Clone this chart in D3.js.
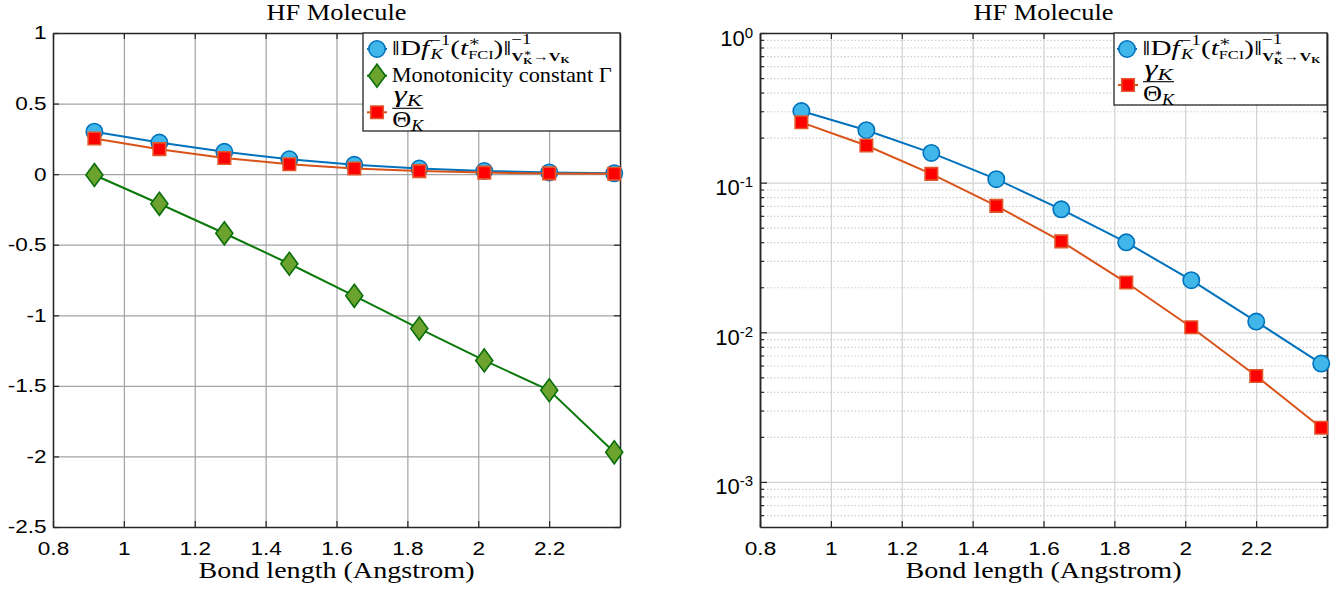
<!DOCTYPE html>
<html>
<head>
<meta charset="utf-8">
<title>HF Molecule</title>
<script src="https://d3js.org/d3.v7.min.js"></script>
<style>
  body { margin: 0; background: #fff; }
  svg { display: block; }
  .tick text { font-family: "Liberation Sans", Arial, sans-serif; fill: #000; }
  .serif, .math text { font-family: "Liberation Serif", "Times New Roman", "DejaVu Serif", serif; fill: #000; }
</style>
</head>
<body>
<svg id="chart" width="1341" height="597"></svg>
<script>
// values
var bondLength = [0.9168, 1.1002, 1.2835, 1.4669, 1.6502, 1.8336, 2.0170, 2.2003, 2.3837];
var invNorm = [0.301, 0.224, 0.158, 0.1055, 0.0663, 0.0399, 0.0223, 0.0118, 0.00618];
var gammaTheta = [0.253, 0.177, 0.1145, 0.0700, 0.0405, 0.0215, 0.0108, 0.0051, 0.0023];
var monotonicity = [-0.006, -0.210, -0.419, -0.635, -0.862, -1.094, -1.320, -1.531, -1.971];

var xTicks = [0.8, 1, 1.2, 1.4, 1.6, 1.8, 2, 2.2];
var yTicksLin = [1, 0.5, 0, -0.5, -1, -1.5, -2, -2.5];
var yTicksLog = [1, 0.1, 0.01, 0.001];
var yMinorLog = [6e-4, 7e-4, 8e-4, 9e-4, 2e-3, 3e-3, 4e-3, 5e-3, 6e-3, 7e-3, 8e-3, 9e-3,
                 2e-2, 3e-2, 4e-2, 5e-2, 6e-2, 7e-2, 8e-2, 9e-2, 0.2, 0.3, 0.4, 0.5, 0.6, 0.7, 0.8, 0.9];

var titleText = "HF Molecule";
var xLabelText = "Bond length (Angstrom)";
var monoLabel = "Monotonicity constant \u0393";

var C = {
  blue: "#0072BD", blueFill: "#41B6E8",
  red: "#D95319", redFill: "#FF0000", redEdge: "#E4552A",
  green: "#0A790A", greenFill: "#6BA32E", greenEdge: "#0A6E0A",
  axis: "#262626"
};

var svg = d3.select("#chart");
var SX = 1.22; // the picture is stretched sideways a bit

var circlePath = d3.symbol(d3.symbolCircle, Math.PI * 8.2 * 8.2)();
var squarePath = d3.symbol(d3.symbolSquare, 12.5 * 12.5)();
var diamondPath = "M0,-11.5L8.5,0L0,11.5L-8.5,0Z";

var styles = {
  blue: {line: C.blue, fill: C.blueFill, edge: C.blue, shape: circlePath},
  red: {line: C.red, fill: C.redFill, edge: C.redEdge, shape: squarePath},
  green: {line: C.green, fill: C.greenFill, edge: C.greenEdge, shape: diamondPath}
};

function drawSeries(g, x, y, vals, st) {
  var line = d3.line()
    .x(function(d, i) { return x(bondLength[i]); })
    .y(function(d) { return y(d); });
  g.append("path").datum(vals)
    .attr("d", line).attr("fill", "none")
    .attr("stroke", st.line).attr("stroke-width", 2);
  g.append("g").selectAll("path").data(vals).join("path")
    .attr("transform", function(d, i) { return "translate(" + x(bondLength[i]) + "," + y(d) + ")"; })
    .attr("d", st.shape)
    .attr("fill", st.fill).attr("stroke", st.edge).attr("stroke-width", 1.6);
}

function styleAxis(sel) {
  sel.select(".domain").attr("stroke", C.axis).attr("stroke-width", 1.5);
  sel.selectAll(".tick line").attr("stroke", C.axis).attr("stroke-width", 1.2);
}

function styleGrid(sel, color, dash) {
  sel.select(".domain").remove();
  sel.selectAll(".tick line").attr("stroke", color).attr("stroke-width", 1.2)
    .attr("stroke-dasharray", dash || null);
}

function frameAxes(g, x, y, p, ticksY, minorY) {
  // top and right box sides with inner ticks
  g.append("g").attr("transform", "translate(0," + p.y0 + ")")
    .call(d3.axisTop(x).tickValues(xTicks).tickSize(-6).tickSizeOuter(0).tickFormat(""))
    .call(styleAxis);
  g.append("g").attr("transform", "translate(" + p.x1 + ",0)")
    .call(d3.axisRight(y).tickValues(ticksY).tickSize(-6).tickSizeOuter(0).tickFormat(""))
    .call(styleAxis);
  if (minorY) {
    g.append("g").attr("transform", "translate(" + p.x1 + ",0)")
      .call(d3.axisRight(y).tickValues(minorY).tickSize(-4).tickSizeOuter(0).tickFormat(""))
      .call(styleAxis);
    g.append("g").attr("transform", "translate(" + p.x0 + ",0)")
      .call(d3.axisLeft(y).tickValues(minorY).tickSize(-4).tickSizeOuter(0).tickFormat(""))
      .call(styleAxis);
  }
  // bottom axis with labels
  var ax = g.append("g").attr("transform", "translate(0," + p.y1 + ")")
    .call(d3.axisBottom(x).tickValues(xTicks).tickSize(-6).tickSizeOuter(0).tickPadding(15)
      .tickFormat(function(d) { return String(d); }))
    .call(styleAxis);
  ax.selectAll(".tick text").style("font-size", "18.5px").attr("transform", "scale(" + SX + ",1)");
}

function titles(g, cx) {
  g.append("text").attr("class", "serif")
    .attr("x", cx).attr("y", 20).attr("text-anchor", "middle")
    .style("font-size", "23px")
    .attr("textLength", 140).attr("lengthAdjust", "spacingAndGlyphs")
    .text(titleText);
  g.append("text").attr("class", "serif")
    .attr("x", cx).attr("y", 578).attr("text-anchor", "middle")
    .style("font-size", "23px")
    .attr("textLength", 276).attr("lengthAdjust", "spacingAndGlyphs")
    .text(xLabelText);
}

// tiny math typesetter: runs of tspans inside one text, stacked sup/sub pairs
function typeset(txt, items, x) {
  items.forEach(function(it) {
    if (it.up || it.dn) {
      var a = typeset(txt, it.up || [], x);
      var b = typeset(txt, it.dn || [], x);
      x = Math.max(a, b);
    } else {
      var t = txt.append("tspan")
        .attr("x", x).attr("y", it.dy || 0)
        .style("font-size", (22 * (it.s || 1)) + "px")
        .style("font-style", it.it ? "italic" : "normal")
        .style("font-weight", it.b ? "bold" : "normal")
        .text(it.t);
      x += t.node().getComputedTextLength() + (it.sp || 0);
    }
  });
  return x;
}

function mathLabel(parent, x, y, items, width) {
  var g = parent.append("g").attr("class", "math");
  var w = typeset(g.append("text"), items, 0);
  g.attr("transform", "translate(" + x + "," + y + ") scale(" + (width / w) + ",1)");
}

function fraction(parent, x, lineY, width, num, numW, den, denW) {
  parent.append("line")
    .attr("x1", x).attr("x2", x + width).attr("y1", lineY).attr("y2", lineY)
    .attr("stroke", "#000").attr("stroke-width", 1.1);
  mathLabel(parent, x + (width - numW) / 2, lineY - 6, num, numW);
  mathLabel(parent, x + (width - denW) / 2, lineY + 19, den, denW);
}

var normLabel = [
  {t: "\u2016D"},
  {t: "f", it: 1, sp: 1},
  {up: [{t: "\u22121", s: 0.64, dy: -10}], dn: [{t: "K", it: 1, s: 0.64, dy: 4}]},
  {t: "("}, {t: "t", it: 1},
  {up: [{t: "\u2217", s: 0.64, dy: -9}], dn: [{t: "FCI", s: 0.56, dy: 4.5}]},
  {t: ")\u2016"},
  {up: [{t: "\u22121", s: 0.64, dy: -11}],
   dn: [{t: "V", b: 1, s: 0.56, dy: 6.5},
        {up: [{t: "\u2217", s: 0.44, dy: 1.5}], dn: [{t: "K", b: 1, s: 0.4, dy: 9.5}]},
        {t: "\u2192", s: 0.56, dy: 6.5},
        {t: "V", b: 1, s: 0.56, dy: 6.5},
        {t: "K", b: 1, s: 0.4, dy: 9}]}
];
var gammaNum = [{t: "\u03b3", it: 1, s: 1.05}, {t: "K", it: 1, s: 0.72, dy: 4}];
var thetaDen = [{t: "\u0398", s: 1.05}, {t: "K", it: 1, s: 0.72, dy: 4}];

function legendBox(g, x0, y0, x1, y1) {
  g.append("rect").attr("x", x0).attr("y", y0)
    .attr("width", x1 - x0).attr("height", y1 - y0)
    .attr("fill", "#fff").attr("stroke", C.axis).attr("stroke-width", 1.3);
}

function legendMark(g, cx, cy, st) {
  g.append("line").attr("x1", cx - 10).attr("x2", cx + 10).attr("y1", cy).attr("y2", cy)
    .attr("stroke", st.line).attr("stroke-width", 2);
  g.append("path").attr("transform", "translate(" + cx + "," + cy + ")")
    .attr("d", st.shape).attr("fill", st.fill).attr("stroke", st.edge).attr("stroke-width", 1.6);
}

// ---------------- left panel (linear) ----------------
var pL = {x0: 53, x1: 620, y0: 33, y1: 527};
var xL = d3.scaleLinear().domain([0.8, 2.4]).range([pL.x0, pL.x1]);
var yL = d3.scaleLinear().domain([-2.5, 1]).range([pL.y1, pL.y0]);
var gL = svg.append("g");

gL.append("g").attr("transform", "translate(0," + pL.y1 + ")")
  .call(d3.axisBottom(xL).tickValues(xTicks).tickSize(-(pL.y1 - pL.y0)).tickFormat(""))
  .call(styleGrid, "#a3a3a3");
gL.append("g").attr("transform", "translate(" + pL.x0 + ",0)")
  .call(d3.axisLeft(yL).tickValues(yTicksLin).tickSize(-(pL.x1 - pL.x0)).tickFormat(""))
  .call(styleGrid, "#a3a3a3");

var axL = gL.append("g").attr("transform", "translate(" + pL.x0 + ",0)")
  .call(d3.axisLeft(yL).tickValues(yTicksLin).tickSize(-6).tickSizeOuter(0).tickPadding(7)
    .tickFormat(function(d) { return String(d); }))
  .call(styleAxis);
axL.selectAll(".tick text").style("font-size", "18.5px")
  .attr("x", -6.5 / SX).attr("transform", "scale(" + SX + ",1)");
frameAxes(gL, xL, yL, pL, yTicksLin, null);

drawSeries(gL, xL, yL, invNorm, styles.blue);
drawSeries(gL, xL, yL, monotonicity, styles.green);
drawSeries(gL, xL, yL, gammaTheta, styles.red);
titles(gL, (pL.x0 + pL.x1) / 2);

legendBox(gL, 363, 33, 620, 131);
legendMark(gL, 377, 49, styles.blue);
mathLabel(gL, 391.7, 54.5, normLabel, 178);
legendMark(gL, 377, 75.7, styles.green);
mathLabel(gL, 391.7, 81.5, [{t: monoLabel}], 220);
legendMark(gL, 377, 112.3, styles.red);
fraction(gL, 392.3, 108.3, 31, gammaNum, 28, thetaDen, 31);

// ---------------- right panel (log) ----------------
var pR = {x0: 760, x1: 1327, y0: 33, y1: 527};
var xR = d3.scaleLinear().domain([0.8, 2.4]).range([pR.x0, pR.x1]);
var yR = d3.scaleLog().domain([5e-4, 1]).range([pR.y1, pR.y0]);
var gR = svg.append("g");

gR.append("g").attr("transform", "translate(" + pR.x0 + ",0)")
  .call(d3.axisLeft(yR).tickValues(yMinorLog).tickSize(-(pR.x1 - pR.x0)).tickFormat(""))
  .call(styleGrid, "#cfcfcf", "1.5,2");
gR.append("g").attr("transform", "translate(0," + pR.y1 + ")")
  .call(d3.axisBottom(xR).tickValues(xTicks).tickSize(-(pR.y1 - pR.y0)).tickFormat(""))
  .call(styleGrid, "#d2d2d2");
gR.append("g").attr("transform", "translate(" + pR.x0 + ",0)")
  .call(d3.axisLeft(yR).tickValues(yTicksLog).tickSize(-(pR.x1 - pR.x0)).tickFormat(""))
  .call(styleGrid, "#d2d2d2");

var axR = gR.append("g").attr("transform", "translate(" + pR.x0 + ",0)")
  .call(d3.axisLeft(yR).tickValues(yTicksLog).tickSize(-7).tickSizeOuter(0).tickFormat(""))
  .call(styleAxis);
axR.selectAll(".tick text").each(function(d) {
  var t = d3.select(this).attr("dy", null).attr("y", 12).attr("x", -7);
  t.append("tspan").style("font-size", "22px").text("10");
  t.append("tspan").style("font-size", "15px").attr("dy", -8).text(String(Math.round(Math.log10(d))));
});
frameAxes(gR, xR, yR, pR, yTicksLog, yMinorLog);

drawSeries(gR, xR, yR, invNorm, styles.blue);
drawSeries(gR, xR, yR, gammaTheta, styles.red);
titles(gR, (pR.x0 + pR.x1) / 2);

legendBox(gR, 1114, 33, 1327, 105);
legendMark(gR, 1127, 49, styles.blue);
mathLabel(gR, 1142.3, 54.5, normLabel, 178);
legendMark(gR, 1128, 85, styles.red);
fraction(gR, 1143, 81.7, 31, gammaNum, 28, thetaDen, 31);
</script>
</body>
</html>
